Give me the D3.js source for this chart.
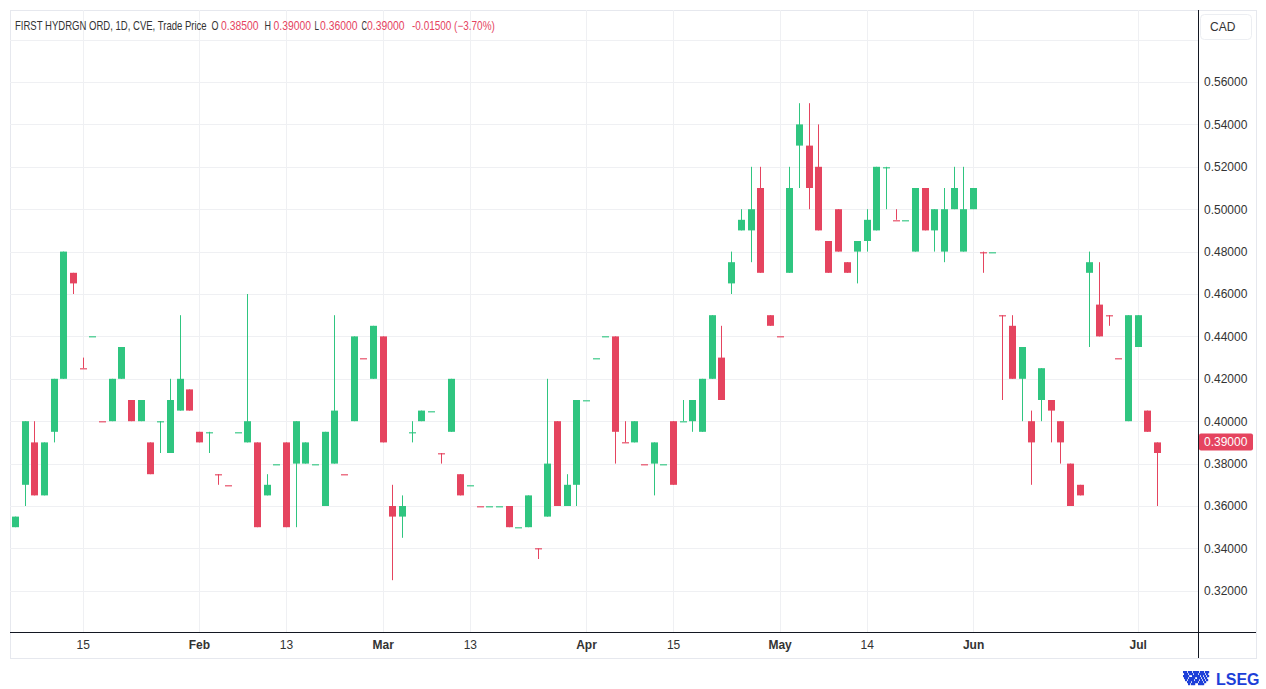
<!DOCTYPE html>
<html>
<head>
<meta charset="utf-8">
<script src="https://cdn.jsdelivr.net/npm/d3@7"></script>
<style>
  html, body { margin: 0; padding: 0; background: #ffffff; }
  svg { display: block; font-family: "Liberation Sans", Arial, sans-serif; }
</style>
</head>
<body>
<svg id="chart" width="1266" height="689"></svg>
<script>
// ---------- data ----------
const opens  = [0.35,0.37,0.39,0.365,0.395,0.42,0.47,0.425,0.44,0.40,
                0.40,0.42,0.41,0.40,0.39,0.40,0.385,0.405,0.415,0.395,
                0.395,0.375,0.37,0.395,0.39,0.39,0.365,0.38,0.39,0.38,
                0.38,0.38,0.36,0.38,0.375,0.40,0.43,0.42,0.44,0.36,
                0.355,0.395,0.40,0.405,0.385,0.395,0.375,0.37,0.36,0.36,
                0.36,0.36,0.35,0.35,0.34,0.355,0.40,0.36,0.37,0.41,
                0.43,0.44,0.44,0.39,0.39,0.38,0.38,0.38,0.40,0.40,
                0.40,0.395,0.42,0.43,0.465,0.49,0.49,0.51,0.45,0.44,
                0.47,0.53,0.53,0.52,0.485,0.50,0.475,0.48,0.485,0.49,
                0.52,0.495,0.495,0.48,0.51,0.49,0.48,0.50,0.48,0.50,
                0.48,0.48,0.45,0.445,0.42,0.40,0.41,0.41,0.40,0.38,
                0.37,0.47,0.455,0.45,0.43,0.40,0.435,0.395,0.385];
const highs  = [0.355,0.40,0.40,0.39,0.42,0.48,0.47,0.43,0.44,0.40,
                0.42,0.435,0.41,0.41,0.39,0.40,0.42,0.45,0.415,0.395,
                0.395,0.375,0.37,0.395,0.46,0.39,0.375,0.38,0.39,0.40,
                0.39,0.38,0.395,0.45,0.375,0.44,0.43,0.445,0.44,0.37,
                0.365,0.40,0.405,0.405,0.385,0.42,0.375,0.37,0.36,0.36,
                0.36,0.36,0.35,0.365,0.34,0.42,0.40,0.375,0.41,0.41,
                0.43,0.44,0.44,0.40,0.40,0.38,0.39,0.38,0.40,0.41,
                0.41,0.42,0.45,0.445,0.48,0.50,0.52,0.52,0.45,0.44,
                0.52,0.55,0.55,0.54,0.485,0.50,0.475,0.485,0.50,0.52,
                0.52,0.50,0.495,0.51,0.51,0.50,0.51,0.52,0.52,0.51,
                0.48,0.48,0.45,0.45,0.435,0.405,0.425,0.41,0.40,0.38,
                0.37,0.48,0.475,0.45,0.43,0.45,0.45,0.405,0.39];
const lows   = [0.35,0.36,0.365,0.365,0.39,0.42,0.46,0.425,0.44,0.40,
                0.40,0.42,0.40,0.40,0.375,0.385,0.385,0.405,0.405,0.39,
                0.385,0.37,0.37,0.395,0.39,0.35,0.365,0.38,0.35,0.35,
                0.38,0.38,0.36,0.38,0.375,0.40,0.43,0.42,0.39,0.325,
                0.345,0.39,0.40,0.405,0.38,0.395,0.365,0.37,0.36,0.36,
                0.36,0.35,0.35,0.35,0.335,0.355,0.36,0.36,0.36,0.41,
                0.43,0.44,0.38,0.39,0.39,0.38,0.365,0.38,0.37,0.40,
                0.395,0.395,0.42,0.41,0.46,0.49,0.475,0.47,0.445,0.44,
                0.47,0.51,0.50,0.49,0.47,0.48,0.47,0.465,0.48,0.49,
                0.50,0.495,0.495,0.48,0.49,0.48,0.475,0.50,0.48,0.50,
                0.47,0.48,0.41,0.42,0.40,0.37,0.40,0.39,0.38,0.36,
                0.365,0.435,0.44,0.445,0.43,0.40,0.435,0.395,0.36];
const closes = [0.355,0.40,0.365,0.39,0.42,0.48,0.465,0.425,0.44,0.40,
                0.42,0.435,0.40,0.41,0.375,0.40,0.41,0.42,0.405,0.39,
                0.395,0.375,0.37,0.395,0.40,0.35,0.37,0.38,0.35,0.40,
                0.39,0.38,0.395,0.405,0.375,0.44,0.43,0.445,0.39,0.355,
                0.36,0.395,0.405,0.405,0.385,0.42,0.365,0.37,0.36,0.36,
                0.36,0.35,0.35,0.365,0.34,0.38,0.36,0.37,0.41,0.41,
                0.43,0.44,0.395,0.39,0.40,0.38,0.39,0.38,0.37,0.40,
                0.41,0.42,0.45,0.41,0.475,0.495,0.50,0.47,0.445,0.44,
                0.51,0.54,0.51,0.49,0.47,0.48,0.47,0.485,0.495,0.52,
                0.52,0.495,0.495,0.51,0.49,0.50,0.50,0.51,0.50,0.51,
                0.48,0.48,0.45,0.42,0.435,0.39,0.425,0.405,0.39,0.36,
                0.365,0.475,0.44,0.45,0.43,0.45,0.45,0.405,0.39];
// sign of the change against the previous close (decides the candle colour)
const moves  = [1,1,-1,1,1,1,-1,-1,1,-1, 1,1,-1,1,-1,1,1,1,-1,-1,
                1,-1,-1,1,1,-1,1,1,-1,1, 1,1,1,1,-1,1,-1,1,-1,-1,
                1,1,1,1,-1,1,-1,1,-1,1, 1,-1,1,1,-1,1,-1,1,1,1,
                1,1,-1,-1,1,-1,1,1,-1,1, 1,1,1,-1,1,1,1,-1,-1,-1,
                1,1,-1,-1,-1,-1,-1,1,1,1, 1,-1,1,1,-1,1,1,1,1,1,
                -1,1,-1,-1,1,-1,1,-1,-1,-1, -1,1,-1,-1,-1,1,1,-1,-1];
const tickIndex  = [7, 19, 28, 38, 47, 59, 68, 79, 88, 99, 116];
const tickLabels = ["15","Feb","13","Mar","13","Apr","15","May","14","Jun","Jul"];
const monthLabels = ["Feb","Mar","Apr","May","Jun","Jul"];
const priceTicks = [0.32,0.34,0.36,0.38,0.40,0.42,0.44,0.46,0.48,0.50,0.52,0.54,0.56];
const gridPrices = [0.32,0.34,0.36,0.38,0.40,0.42,0.44,0.46,0.48,0.50,0.52,0.54,0.56,0.58];
const lastPrice = 0.39;
const title = "FIRST HYDRGN ORD, 1D, CVE, Trade Price";
const ohlcKeys = ["O","H","L","C"];
const ohlcVals = ["0.38500","0.39000","0.36000","0.39000"];
const changeText = "-0.01500 (\u22123.70%)";

// ---------- layout ----------
const UP = "#2fc580", DOWN = "#e5445f";
const plotL = 10, plotR = 1198, plotT = 10, plotB = 632, outerR = 1256, outerB = 658;
const svg = d3.select("#chart");

const n = closes.length;
const x = d3.scaleLinear().domain([0, n - 1]).range([15, 1157]);
const y = d3.scaleLinear().domain([0.30, 0.60]).range([633.2, -2.8]);

// outer frame
svg.append("rect").attr("x", plotL + 0.5).attr("y", plotT + 0.5)
   .attr("width", outerR - plotL).attr("height", outerB - plotT)
   .attr("fill", "#fff").attr("stroke", "#e6e8ee");

// grid
const grid = svg.append("g");
grid.selectAll("line.h").data(gridPrices).join("line")
  .attr("x1", plotL).attr("x2", plotR)
  .attr("y1", d => Math.round(y(d)) + 0.5).attr("y2", d => Math.round(y(d)) + 0.5)
  .attr("stroke", "#eff0f3");
grid.selectAll("line.v").data(tickIndex).join("line")
  .attr("x1", d => Math.round(x(d)) + 0.5).attr("x2", d => Math.round(x(d)) + 0.5)
  .attr("y1", plotT).attr("y2", plotB)
  .attr("stroke", "#eff0f3");

// candles
svg.append("clipPath").attr("id", "plotclip")
  .append("rect").attr("x", plotL).attr("y", plotT).attr("width", plotR - plotL).attr("height", plotB - plotT);
const cg = svg.append("g").attr("clip-path", "url(#plotclip)");
const idx = d3.range(n);
const col = i => moves[i] > 0 ? UP : DOWN;
cg.selectAll("line.wick").data(idx).join("line")
  .attr("x1", i => Math.round(x(i)) + 0.5).attr("x2", i => Math.round(x(i)) + 0.5)
  .attr("y1", i => y(highs[i])).attr("y2", i => y(lows[i]))
  .attr("stroke", col).attr("stroke-width", 1);
cg.selectAll("rect.body").data(idx).join("rect")
  .attr("x", i => Math.round(x(i)) - 3)
  .attr("width", 7)
  .attr("y", i => {
    const t = y(Math.max(opens[i], closes[i])), b = y(Math.min(opens[i], closes[i]));
    return b - t < 1.5 ? Math.round(t) : t;
  })
  .attr("height", i => {
    const t = y(Math.max(opens[i], closes[i])), b = y(Math.min(opens[i], closes[i]));
    return Math.max(1.5, b - t);
  })
  .attr("fill", col)
  .attr("fill-opacity", i => opens[i] === closes[i] ? 0.75 : 1);

// axes lines
svg.append("line").attr("x1", plotR + 0.5).attr("x2", plotR + 0.5).attr("y1", plotT).attr("y2", outerB)
   .attr("stroke", "#131722");
svg.append("line").attr("x1", plotL).attr("x2", outerR).attr("y1", plotB + 0.5).attr("y2", plotB + 0.5)
   .attr("stroke", "#131722");

// price axis (d3 axis, restyled)
const yAxis = d3.axisRight(y).tickValues(priceTicks).tickSize(0).tickPadding(6)
  .tickFormat(d3.format(".5f"));
const yg = svg.append("g").attr("transform", `translate(${plotR},0)`).call(yAxis);
yg.select(".domain").remove();
yg.selectAll("text").attr("font-size", 12).attr("fill", "#333").attr("font-family", "Liberation Sans, Arial, sans-serif");

// time axis
const xAxis = d3.axisBottom(x).tickValues(tickIndex).tickSize(0).tickPadding(8)
  .tickFormat((d, i) => tickLabels[i]);
const xg = svg.append("g").attr("transform", `translate(0,${plotB})`).call(xAxis);
xg.select(".domain").remove();
xg.selectAll("text").attr("font-size", 12).attr("fill", "#333")
  .attr("font-family", "Liberation Sans, Arial, sans-serif")
  .attr("font-weight", (d, i) => monthLabels.includes(tickLabels[i]) ? "bold" : "normal");

// CAD box
svg.append("rect").attr("x", 1200.5).attr("y", 14.5).attr("width", 51).attr("height", 25).attr("rx", 4)
   .attr("fill", "#fff").attr("stroke", "#eceef2");
svg.append("text").attr("x", 1210).attr("y", 31).attr("font-size", 12).attr("fill", "#333").text("CAD");

// last price label
svg.append("rect").attr("x", plotR + 1).attr("y", y(lastPrice) - 9).attr("width", 54).attr("height", 17).attr("rx", 2)
   .attr("fill", DOWN);
svg.append("text").attr("x", 1204).attr("y", y(lastPrice) + 4).attr("font-size", 12).attr("fill", "#fff")
   .text(d3.format(".5f")(lastPrice));

// header: each piece is drawn at 12px and narrowed horizontally to the width seen in the reference
const hdr = svg.append("g");
function headerText(str, x0, width, fill) {
  const g = hdr.append("g");
  const t = g.append("text").attr("x", 0).attr("y", 0).attr("font-size", 12).attr("fill", fill).text(str);
  const w = t.node().getComputedTextLength();
  g.attr("transform", `translate(${x0},29.5) scale(${width / w},1)`);
}
headerText(title, 15, 192, "#333");
const keyX = [211.5, 264.5, 314.5, 361.5];
const keyW = [7, 6.5, 4.5, 5.5];
const valX = [221, 273.5, 320, 367];
ohlcKeys.forEach((k, j) => {
  headerText(k, keyX[j], keyW[j], "#333");
  headerText(ohlcVals[j], valX[j], 37.5, DOWN);
});
headerText(changeText, 412, 83, DOWN);

// LSEG logo
const logo = svg.append("g").attr("fill", "#1d3fd8");
const px = [[0,0],[2,0],[5,0],[7,0],[10,0],[12,0],[14,0],[17,0],[19,0],[22,0],[24,0],
            [1,2],[3,2],[6,2],[8,2],[11,2],[13,2],[16,2],[18,2],[20,2],[23,2],
            [0,4],[2,4],[4,4],[9,4],[11,4],[13,4],[15,4],[18,4],[21,4],[24,4],
            [1,6],[3,6],[6,6],[8,6],[10,6],[14,6],[16,6],[19,6],[22,6],
            [2,8],[5,8],[7,8],[9,8],[12,8],[14,8],[17,8],[20,8],[23,8],
            [4,10],[6,10],[9,10],[11,10],[13,10],[16,10],[18,10],[21,10],
            [5,12],[8,12],[10,12],[15,12],[17,12],[19,12]];
logo.selectAll("rect").data(px).join("rect")
  .attr("x", d => 1183 + d[0]).attr("y", d => 671 + d[1]).attr("width", 2.2).attr("height", 2.2);
svg.append("text").attr("x", 1216).attr("y", 685).attr("font-size", 16).attr("font-weight", "bold")
   .attr("fill", "#1d3fd8").attr("font-family", "Liberation Sans, Arial, sans-serif").text("LSEG");
</script>
</body>
</html>
